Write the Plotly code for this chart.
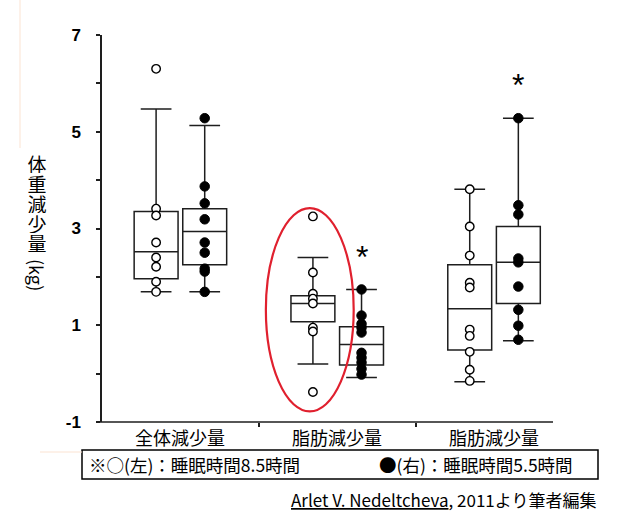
import plotly.graph_objects as go

# ---------------- data ----------------
categories = ["全体減少量", "脂肪減少量", "脂肪減少量"]

# box statistics  (left = 8.5 h sleep, right = 5.5 h sleep)
left_q1 = [1.96, 1.07, 0.49]
left_median = [2.52, 1.45, 1.34]
left_q3 = [3.35, 1.61, 2.25]
left_low = [1.69, 0.20, -0.17]
left_high = [5.47, 2.40, 3.81]

right_q1 = [2.25, 0.18, 1.45]
right_median = [2.94, 0.60, 2.30]
right_q3 = [3.41, 0.97, 3.04]
right_low = [1.69, -0.08, 0.68]
right_high = [5.13, 1.74, 5.28]

# individual subjects
left_points = [
    [6.30, 3.41, 3.27, 2.71, 2.40, 2.21, 1.90, 1.69],
    [3.25, 2.09, 1.65, 1.55, 1.45, 0.95, 0.87, -0.38],
    [3.81, 3.04, 2.44, 1.88, 1.78, 0.91, 0.78, 0.45, 0.08, -0.15],
]
right_points = [
    [5.28, 3.87, 3.52, 3.19, 2.71, 2.50, 2.17, 2.11, 1.69],
    [1.74, 1.20, 1.03, 0.95, 0.85, 0.43, 0.33, 0.23, 0.10, -0.02],
    [5.28, 3.48, 3.29, 2.38, 2.30, 1.80, 1.32, 0.99, 0.70],
]
significant = [False, True, True]

y_tick_vals = [-1, 0, 1, 2, 3, 4, 5, 6, 7]
y_tick_text = ["-1", "", "1", "", "3", "", "5", "", "7"]

legend_left = "※○(左)：睡眠時間8.5時間"
legend_right = "●(右)：睡眠時間5.5時間"
source_text = "<u>Arlet V. Nedeltcheva</u>, 2011より筆者編集"
y_title_chars = ["体", "重", "減", "少", "量"]
y_title_unit = "(kg)"

# ---------------- layout helpers ----------------
W, H = 628, 523
L, R, T, B = 102, 553, 35, 422
OFF = 0.155
BOXW = 0.28


def px(x):
    return (x - L) / (R - L)


def py(y):
    return (B - y) / (B - T)


fig = go.Figure()
line_col = "#1e1e1e"

for i in range(len(categories)):
    for side, q1, med, q3, lo, hi in (
        (-1, left_q1, left_median, left_q3, left_low, left_high),
        (1, right_q1, right_median, right_q3, right_low, right_high),
    ):
        fig.add_trace(go.Box(
            x=[i + side * OFF], q1=[q1[i]], median=[med[i]], q3=[q3[i]],
            lowerfence=[lo[i]], upperfence=[hi[i]],
            width=BOXW, whiskerwidth=0.7, boxpoints=False,
            fillcolor="white", line=dict(color=line_col, width=1.5),
            showlegend=False, hoverinfo="skip",
        ))

for i in range(len(categories)):
    fig.add_trace(go.Scatter(
        x=[i - OFF] * len(left_points[i]), y=left_points[i], mode="markers",
        marker=dict(symbol="circle", size=8.5, color="white",
                    line=dict(color="black", width=1.4)),
        showlegend=False, hoverinfo="skip", cliponaxis=False,
    ))
    fig.add_trace(go.Scatter(
        x=[i + OFF] * len(right_points[i]), y=right_points[i], mode="markers",
        marker=dict(symbol="circle", size=9.5, color="black",
                    line=dict(color="black", width=1)),
        showlegend=False, hoverinfo="skip", cliponaxis=False,
    ))

annotations = []
# significance stars
for i in range(len(categories)):
    if significant[i]:
        top = max(right_points[i] + [right_high[i]])
        annotations.append(dict(
            x=i + OFF, y=top + 0.68, xref="x", yref="y", text="*",
            showarrow=False, font=dict(size=32, color="black",
                                       family="Liberation Sans"),
            yanchor="middle",
        ))

# category labels
for i, c in enumerate(categories):
    annotations.append(dict(
        x=i, y=py(437), xref="x", yref="paper", text=c, showarrow=False,
        font=dict(size=18, color="black", family="Noto Sans CJK JP"),
        yanchor="middle",
    ))

# y title (stacked upright characters + rotated unit)
for k, ch in enumerate(y_title_chars):
    annotations.append(dict(
        x=px(37), y=py(163 + 20 * k), xref="paper", yref="paper", text=ch,
        showarrow=False, font=dict(size=19, color="black",
                                   family="Noto Sans CJK JP"),
        xanchor="center", yanchor="middle", height=19, width=22,
    ))
annotations.append(dict(
    x=px(37), y=py(275), xref="paper", yref="paper", text=y_title_unit,
    textangle=90, showarrow=False,
    font=dict(size=18, color="black", family="Noto Sans CJK JP"),
    xanchor="center", yanchor="middle",
))

# legend box text
annotations.append(dict(
    x=px(87), y=py(464), xref="paper", yref="paper", text=legend_left,
    showarrow=False, xanchor="left", yanchor="middle",
    font=dict(size=17.5, color="black", family="Noto Sans CJK JP"),
))
annotations.append(dict(
    x=px(377), y=py(464), xref="paper", yref="paper", text=legend_right,
    showarrow=False, xanchor="left", yanchor="middle",
    font=dict(size=17.5, color="black", family="Noto Sans CJK JP"),
))
# source
annotations.append(dict(
    x=px(598), y=py(500), xref="paper", yref="paper", text=source_text,
    showarrow=False, xanchor="right", yanchor="middle",
    font=dict(size=17, color="black", family="Noto Sans CJK JP"),
))

shapes = [
    # legend frame
    dict(type="rect", xref="paper", yref="paper",
         x0=px(82), x1=px(598), y0=py(479), y1=py(450),
         line=dict(color="black", width=1.5), fillcolor="rgba(0,0,0,0)"),
    # x axis line (extends slightly left of y axis)
    dict(type="line", xref="paper", yref="paper",
         x0=px(98), x1=1, y0=0, y1=0,
         line=dict(color=line_col, width=1.5)),
    # red ellipse highlighting group 2 left box
    dict(type="circle", xref="x", yref="y",
         x0=1 - OFF - 0.3, x1=1 - OFF + 0.26,
         y0=min(left_points[1]) - 0.4, y1=max(left_points[1]) + 0.17,
         line=dict(color="#e0202e", width=2.2)),
    # faint slide guide lines
    dict(type="line", xref="paper", yref="paper",
         x0=px(20), x1=px(20), y0=py(0), y1=py(148),
         line=dict(color="#fbe3d2", width=1)),
    dict(type="line", xref="paper", yref="paper",
         x0=px(40), x1=px(82), y0=py(452), y1=py(452),
         line=dict(color="#fbe3d2", width=1)),
]

fig.update_layout(
    width=W, height=H,
    margin=dict(l=L, r=W - R, t=T, b=H - B, pad=0),
    paper_bgcolor="white", plot_bgcolor="white",
    showlegend=False,
    annotations=annotations, shapes=shapes,
    xaxis=dict(range=[-0.5, 2.376], showgrid=False, zeroline=False,
               showline=False, tickmode="array", tickvals=[0.5, 1.5],
               ticktext=["", ""], ticks="outside", ticklen=4,
               tickcolor=line_col, tickwidth=1.5, fixedrange=True),
    yaxis=dict(range=[-1, 7], showgrid=False, zeroline=False,
               showline=True, linecolor=line_col, linewidth=1.5,
               tickmode="array", tickvals=y_tick_vals, ticktext=y_tick_text,
               ticks="outside", ticklen=4, tickcolor=line_col, tickwidth=1.5,
               ticklabelstandoff=12,
               tickfont=dict(size=17, color="black",
                             family="Liberation Sans", weight="bold"),
               fixedrange=True),
)

fig.write_html("out.html")
